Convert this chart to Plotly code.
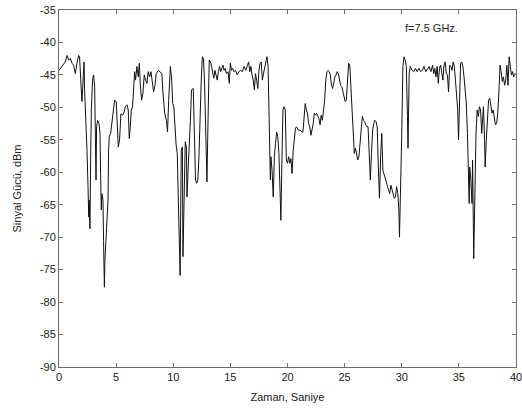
import plotly.graph_objects as go

time_s = [
    0.0, 0.26, 0.4, 0.55, 0.7, 0.85, 1.0, 1.14, 1.28, 1.43, 1.57, 1.72, 1.8, 1.87, 1.95,
    2.01, 2.1, 2.19, 2.24, 2.33, 2.45, 2.54, 2.6, 2.65, 2.71, 2.77, 2.83, 2.94, 3.03, 3.12,
    3.18, 3.24, 3.29, 3.38, 3.5, 3.59, 3.64, 3.7, 3.76, 3.85, 3.9, 3.97, 4.02, 4.11, 4.2,
    4.29, 4.34, 4.4, 4.52, 4.64, 4.78, 4.87, 5.01, 5.1, 5.19, 5.3, 5.42, 5.57, 5.71, 5.8,
    5.95, 6.06, 6.15, 6.24, 6.33, 6.44, 6.53, 6.62, 6.7, 6.82, 6.94, 7.03, 7.11, 7.23, 7.35,
    7.46, 7.58, 7.7, 7.81, 7.93, 8.05, 8.16, 8.28, 8.4, 8.51, 8.7,
    8.85, 9.0, 9.1, 9.25, 9.4, 9.5, 9.6, 9.75, 9.85, 9.95, 10.05, 10.15, 10.25, 10.35, 10.45,
    10.5, 10.6, 10.7, 10.8, 10.85, 10.95, 11.05, 11.15, 11.2, 11.3, 11.4, 11.5, 11.6, 11.75,
    11.85, 11.95, 12.05, 12.15, 12.25, 12.35, 12.45, 12.55, 12.65, 12.75, 12.85, 12.95, 13.05,
    13.15, 13.3, 13.45, 13.55, 13.65, 13.75, 13.85, 13.95, 14.05, 14.15, 14.25, 14.35, 14.45,
    14.55, 14.65, 14.8, 14.9, 15.0, 15.1, 15.2, 15.3, 15.45, 15.6, 15.75, 15.9, 16.05, 16.2,
    16.35, 16.5, 16.6, 16.7, 16.8, 16.9, 17.0, 17.1, 17.2, 17.3, 17.4, 17.5, 17.6, 17.7, 17.8,
    17.9, 18.0, 18.1, 18.2, 18.3, 18.4, 18.5,
    18.55, 18.65, 18.75, 18.85, 18.95, 19.05, 19.15, 19.25, 19.35, 19.42, 19.5, 19.6, 19.7,
    19.8, 19.9, 20.0, 20.1, 20.2, 20.3, 20.4, 20.5, 20.6, 20.7, 20.8, 20.95, 21.1, 21.25,
    21.35, 21.45, 21.55, 21.65, 21.75, 21.85, 21.95, 22.05, 22.15, 22.25, 22.35, 22.45, 22.55,
    22.65, 22.75, 22.85, 22.95, 23.05, 23.15, 23.25, 23.35, 23.45, 23.55, 23.65, 23.75, 23.85,
    23.95, 24.05, 24.15, 24.25, 24.35, 24.45, 24.55, 24.65, 24.75, 24.85, 24.95, 25.05, 25.15,
    25.25, 25.35, 25.45, 25.55, 25.65, 25.75, 25.85, 25.95, 26.05, 26.15, 26.25, 26.35, 26.45,
    26.55, 26.65, 26.75, 26.85, 26.95, 27.05, 27.15, 27.25, 27.35, 27.45, 27.55, 27.65, 27.75,
    27.85, 27.95, 28.05, 28.15, 28.25, 28.35, 28.45, 28.55, 28.65, 28.75, 28.85, 28.95,
    29.05, 29.15, 29.25, 29.35, 29.45, 29.55, 29.65, 29.75, 29.8, 29.9, 30.0, 30.1, 30.2,
    30.3, 30.4, 30.5, 30.55, 30.65, 30.75, 30.9, 31.05, 31.2, 31.35, 31.5, 31.65, 31.8,
    31.95, 32.1, 32.25, 32.4, 32.55, 32.7, 32.8, 32.9, 33.0, 33.1, 33.2, 33.3, 33.4, 33.5,
    33.6, 33.7, 33.8, 33.9, 34.0, 34.1, 34.2, 34.3, 34.4, 34.5, 34.6, 34.7, 34.8, 34.9,
    34.97, 35.05, 35.15, 35.25, 35.35, 35.45, 35.55, 35.65, 35.75, 35.85, 35.9, 35.95, 36.05,
    36.15, 36.2, 36.3, 36.35, 36.4, 36.5, 36.6, 36.7, 36.8, 36.9, 37.0, 37.1, 37.15, 37.25,
    37.3, 37.4, 37.5, 37.6, 37.7, 37.8, 37.9, 38.0, 38.1, 38.2, 38.3, 38.4, 38.5, 38.6, 38.7,
    38.8, 38.9, 39.0, 39.1, 39.2, 39.3, 39.4, 39.5, 39.6, 39.7, 39.8, 39.9, 40.0,
]

power_dbm = [
    -44.3, -43.7, -43.5, -43.0, -42.0, -42.7, -42.5, -43.2, -43.5, -44.8, -43.2, -42.0, -42.2, -46.3, -47.3,
    -49.1, -46.8, -43.0, -47.3, -50.4, -56.6, -62.2, -66.9, -64.3, -68.7, -58.1, -50.4, -45.8, -45.0, -46.8,
    -53.5, -61.2, -53.0, -52.0, -52.5, -54.0, -60.2, -65.8, -63.3, -64.3, -70.5, -77.7, -73.5, -70.0, -66.9,
    -64.3, -56.6, -54.5, -54.0, -52.5, -50.4, -48.9, -49.1, -53.0, -56.1, -55.0, -51.0, -51.2, -50.7, -49.9,
    -49.6, -50.4, -54.8, -53.0, -50.4, -49.9, -46.8, -44.5, -45.8, -43.7, -45.3, -43.2, -46.3, -48.9, -47.8,
    -45.0, -45.8, -46.3, -44.5, -45.3, -44.5, -46.3, -47.6, -46.6, -44.8, -44.3,
    -44.5, -44.8, -47.8, -50.9, -52.0, -53.8, -48.9, -43.7, -45.3, -49.4, -49.9, -54.0, -55.8, -57.1, -66.3,
    -65.8, -75.9, -56.6, -56.1, -73.0, -62.2, -55.3, -56.1, -63.8, -59.7, -54.0, -52.0, -47.3, -47.1,
    -54.0, -61.2, -61.7, -61.2, -57.6, -49.4, -45.8, -42.2, -42.5, -46.8, -56.1, -61.5, -51.4,
    -42.7, -43.2, -45.0, -45.5, -44.3, -45.3, -45.8, -44.5, -43.7, -44.5, -44.0, -43.5, -44.3,
    -44.0, -44.8, -44.5, -46.3, -43.2, -44.3, -44.0, -44.5, -44.3, -45.0, -44.5, -44.3, -44.5, -43.7,
    -44.3, -43.5, -43.0, -44.5, -43.7, -45.0, -45.8, -47.3, -44.8, -45.8, -47.1, -44.3, -43.2, -43.0, -45.8,
    -44.8, -43.7, -42.7, -42.2, -43.7, -53.0, -61.2,
    -57.6, -59.7, -63.8, -57.6, -55.6, -53.8, -54.5, -57.1, -63.0, -67.4, -59.2, -50.4, -49.9,
    -50.4, -58.1, -58.6, -57.6, -58.6, -57.9, -60.2, -56.6, -54.5, -53.2, -53.0, -53.5, -53.5, -53.8,
    -53.8, -50.9, -49.4, -50.4, -50.9, -52.5, -53.0, -54.3, -53.5, -52.5, -50.9, -51.2, -50.9,
    -51.4, -51.7, -52.7, -51.2, -52.0, -50.7, -48.9, -45.8, -44.5, -44.3, -44.5, -45.0, -46.6,
    -47.1, -45.8, -45.3, -45.0, -44.5, -44.8, -45.8, -46.6, -46.8, -47.6, -48.4, -49.1, -48.9,
    -44.8, -43.2, -43.5, -46.8, -49.9, -55.0, -57.1, -56.3, -57.1, -58.1, -57.6, -55.6, -52.5,
    -51.4, -52.0, -52.2, -52.7, -53.0, -53.0, -58.1, -61.2, -57.1, -53.5, -52.5, -52.0, -52.2,
    -53.0, -59.2, -64.0, -57.6, -54.0, -59.7, -60.2, -61.0, -61.5, -62.2, -62.7, -63.3,
    -62.0, -62.7, -63.5, -64.0, -63.8, -62.2, -63.3, -65.8, -70.0, -58.1, -54.0, -43.7, -42.2,
    -42.7, -43.7, -51.4, -56.3, -44.8, -43.7, -44.3, -44.5, -44.0, -44.5, -44.0, -44.5, -44.3,
    -43.7, -44.5, -44.0, -43.7, -44.5, -43.5, -44.8, -44.0, -45.3, -43.7, -46.3, -44.0, -43.5, -44.5,
    -45.8, -43.5, -43.0, -44.8, -45.0, -47.6, -43.5, -43.7, -44.3, -43.0, -43.7, -45.8, -48.9, -50.4,
    -55.0, -47.8, -43.2, -43.0, -43.7, -45.3, -47.8, -49.4, -54.0, -59.2, -64.8, -59.2, -61.2,
    -64.8, -58.1, -73.3, -68.5, -59.2, -54.0, -50.4, -51.4, -49.9, -50.4, -54.0, -50.9, -49.9, -55.0,
    -59.2, -55.0, -50.9, -48.9, -48.6, -49.9, -50.9, -50.4, -51.4, -52.7, -52.5, -50.9, -47.8, -43.5, -44.5,
    -46.0, -45.3, -46.6, -45.8, -43.5, -46.6, -42.2, -43.7, -45.0, -44.5, -45.3, -44.8, -45.0,
]

x_ticks = [0, 5, 10, 15, 20, 25, 30, 35, 40]
y_ticks = [-90, -85, -80, -75, -70, -65, -60, -55, -50, -45, -40, -35]

FONT = "Liberation Sans, Arial, sans-serif"
AXIS_COLOR = "#6e6e6e"

fig = go.Figure()
fig.add_trace(go.Scatter(
    x=time_s, y=power_dbm, mode="lines",
    line=dict(color="#111111", width=1),
    showlegend=False, hoverinfo="skip",
))

axis_common = dict(
    showgrid=False, zeroline=False, automargin=False, ticklabeloverflow="allow",
    showline=True, linecolor=AXIS_COLOR, linewidth=1, mirror="ticks",
    ticks="inside", ticklen=4, tickcolor=AXIS_COLOR, tickwidth=1,
    tickfont=dict(family=FONT, size=11, color="#222222"),
)

fig.update_layout(
    width=522, height=411,
    margin=dict(l=59, r=6, t=10, b=44),
    paper_bgcolor="white", plot_bgcolor="white",
    font=dict(family=FONT, size=11, color="#222222"),
    xaxis=dict(
        range=[0, 40], tickvals=x_ticks, ticktext=[str(v) for v in x_ticks],
        title=dict(text="Zaman, Saniye", font=dict(family=FONT, size=11, color="#222222"), standoff=11),
        **axis_common,
    ),
    yaxis=dict(
        range=[-90, -35], tickvals=y_ticks, ticktext=[str(v) for v in y_ticks],
        title=dict(text="Sinyal Gücü, dBm", font=dict(family=FONT, size=11, color="#222222"), standoff=16),
        **axis_common,
    ),
    annotations=[dict(
        x=32.6, y=-37.8, xref="x", yref="y", text="f=7.5 GHz.", showarrow=False,
        font=dict(family=FONT, size=11, color="#222222"),
    )],
)

fig.write_html("out.html")
